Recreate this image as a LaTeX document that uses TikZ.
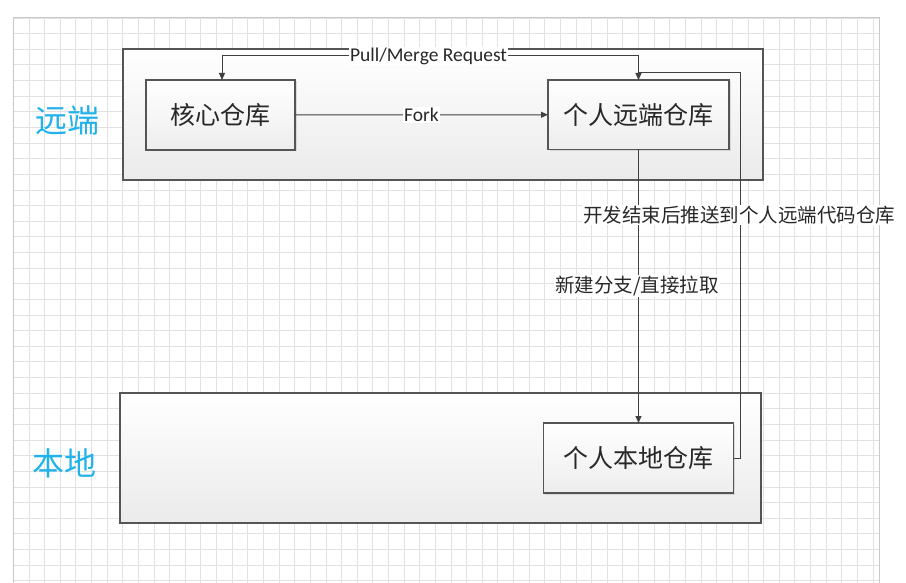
\documentclass[tikz,border=0pt]{standalone}
\usepackage{fontspec}
\setmainfont{Carlito}
\newfontfamily\cjk{Noto Sans CJK SC}
\usetikzlibrary{arrows.meta,shadows}
\definecolor{gridc}{RGB}{226,226,226}
\definecolor{gridb}{RGB}{200,200,200}
\definecolor{edge}{RGB}{85,85,85}
\definecolor{conn}{RGB}{64,64,64}
\definecolor{txt}{RGB}{40,40,40}
\definecolor{sky}{RGB}{32,178,234}
\begin{document}
\begin{tikzpicture}[x=1pt,y=-1pt,
  container/.style={draw=edge,line width=1.2pt,top color=white,bottom color=black!8,inner sep=0pt,outer sep=0pt},
  repo/.style={draw=edge,line width=1.2pt,top color=white,bottom color=black!7,inner sep=0pt,outer sep=0pt,
    drop shadow={shadow xshift=1.5pt,shadow yshift=-1.5pt,fill=black!25,opacity=0.5},
    text=txt,font=\cjk\fontsize{25}{30}\selectfont},
  conn/.style={draw=conn,line width=1pt,-{Triangle[length=7pt,width=6pt]}},
  lbl/.style={fill=white,inner sep=1pt,text=txt,font=\fontsize{19.5}{23}\selectfont},
  cjklbl/.style={lbl,font=\cjk\fontsize{19.5}{23}\selectfont},
  side/.style={text=sky,font=\cjk\fontsize{32}{36}\selectfont,inner sep=0pt}]
\useasboundingbox (0,0) rectangle (906,583);
\fill[white] (0,0) rectangle (906,583);
% grid
\foreach \k in {0,...,55} {\draw[gridc,line width=0.8pt] (13.3+\k*15.63,18) -- (13.3+\k*15.63,583);}
\foreach \k in {0,...,36} {\draw[gridc,line width=0.8pt] (13.3,18+\k*15.63) -- (879,18+\k*15.63);}
\draw[gridb,line width=1pt] (13.3,583) -- (13.3,18) -- (879,18) -- (879,583);
% containers
\node[container,minimum width=640pt,minimum height=131pt] (remote) at (443,114.5) {};
\node[container,minimum width=641pt,minimum height=130pt] (local) at (440.5,458) {};
% side labels
\node[side] (lremote) at (67,120) {远端};
\node[side] (llocal) at (64,463) {本地};
% repos
\node[repo,minimum width=149pt,minimum height=70pt] (core) at (220.5,115) {核心仓库};
\node[repo,minimum width=181pt,minimum height=69.5pt] (pr) at (638.5,114.75) {个人远端仓库};
\node[repo,minimum width=190.5pt,minimum height=70pt] (loc) at (638.5,458) {个人本地仓库};
% connectors
\coordinate (pulltop) at (222,56);
\draw[conn] (pr.north) |- (pulltop) -- (core.north -| pulltop);
\node[lbl] (pulllbl) at (428.5,56) {Pull/Merge Request};
\draw[conn] (core.east) -- (pr.west);
\node[lbl] (forklbl) at (421.5,115) {Fork};
\draw[conn] (pr.south) -- (loc.north);
\node[cjklbl] (branchlbl) at (637,286) {新建分支/直接拉取};
\coordinate (pushcorner) at (740,73);
\draw[conn] (loc.east) -| (pushcorner) -| (pr.north);
\node[cjklbl] (pushlbl) at (739,215) {开发结束后推送到个人远端代码仓库};
\end{tikzpicture}
\end{document}
